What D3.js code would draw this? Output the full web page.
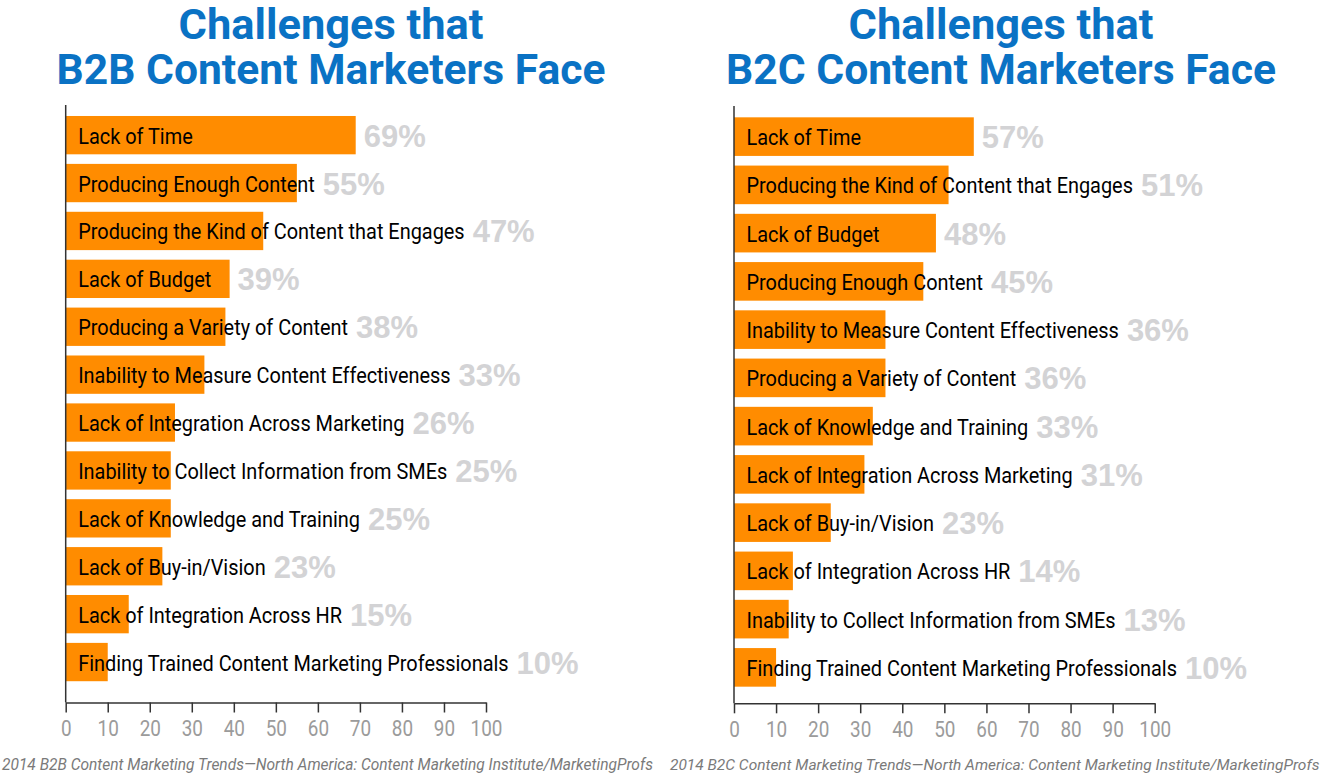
<!DOCTYPE html>
<html>
<head>
<meta charset="utf-8">
<script src="https://cdn.jsdelivr.net/npm/d3@7"></script>
<style>
  html, body { margin: 0; padding: 0; background: #ffffff; }
  svg { display: block; }
</style>
</head>
<body>
<svg id="chart" width="1323" height="775"></svg>
<script>
// ---- Data ----
const b2bTitle = ["Challenges that", "B2B Content Marketers Face"];
const b2bCategories = [
  "Lack of Time",
  "Producing Enough Content",
  "Producing the Kind of Content that Engages",
  "Lack of Budget",
  "Producing a Variety of Content",
  "Inability to Measure Content Effectiveness",
  "Lack of Integration Across Marketing",
  "Inability to Collect Information from SMEs",
  "Lack of Knowledge and Training",
  "Lack of Buy-in/Vision",
  "Lack of Integration Across HR",
  "Finding Trained Content Marketing Professionals"
];
const b2bValues = [69, 55, 47, 39, 38, 33, 26, 25, 25, 23, 15, 10];
const b2bSource = "2014 B2B Content Marketing Trends\u2014North America: Content Marketing Institute/MarketingProfs";

const b2cTitle = ["Challenges that", "B2C Content Marketers Face"];
const b2cCategories = [
  "Lack of Time",
  "Producing the Kind of Content that Engages",
  "Lack of Budget",
  "Producing Enough Content",
  "Inability to Measure Content Effectiveness",
  "Producing a Variety of Content",
  "Lack of Knowledge and Training",
  "Lack of Integration Across Marketing",
  "Lack of Buy-in/Vision",
  "Lack of Integration Across HR",
  "Inability to Collect Information from SMEs",
  "Finding Trained Content Marketing Professionals"
];
const b2cValues = [57, 51, 48, 45, 36, 36, 33, 31, 23, 14, 13, 10];
const b2cSource = "2014 B2C Content Marketing Trends\u2014North America: Content Marketing Institute/MarketingProfs";

const axisTicks = [0, 10, 20, 30, 40, 50, 60, 70, 80, 90, 100];

// ---- Style ----
const ORANGE = "#ff8c00";
const BLUE = "#0a72c4";
const PCT_GRAY = "#d3d3d5";
const TICK_GRAY = "#9b9b9b";
const NOTE_GRAY = "#7a7a7a";
const AXIS_COLOR = "#333333";
const FONT = "Roboto, 'Liberation Sans', sans-serif";
const WIDE = "'Liberation Sans', Roboto, sans-serif";
const LABEL_SQUEEZE = 0.905;
const TICK_SQUEEZE = 0.86;

const svg = d3.select("#chart");

function fitWidth(sel, target) {
  const w = sel.node().getComputedTextLength();
  if (w > 0) {
    const fs = parseFloat(sel.attr("font-size"));
    sel.attr("font-size", (fs * target / w).toFixed(2));
  }
}

function drawPanel(cfg) {
  const g = svg.append("g");
  const x = d3.scaleLinear().domain([0, 100]).range([cfg.x0, cfg.x1]);
  const y = d3.scaleBand()
    .domain(cfg.categories)
    .range([cfg.yTop, cfg.yTop + cfg.step * cfg.categories.length])
    .paddingInner(0.2)
    .paddingOuter(0.1);

  // Title (horizontally condensed with a transform)
  cfg.title.forEach((t, i) => {
    const tg = g.append("g");
    const tt = tg.append("text")
      .attr("x", 0)
      .attr("y", cfg.titleY[i])
      .attr("text-anchor", "middle")
      .attr("font-family", FONT)
      .attr("font-weight", "bold")
      .attr("font-size", 42)
      .attr("fill", BLUE)
      .text(t);
    const w = tt.node().getComputedTextLength();
    const s = w > 0 ? cfg.titleW[i] / w : 1;
    tg.attr("transform", `translate(${cfg.titleX},0) scale(${s.toFixed(4)},1)`);
  });

  // Bars
  g.append("g").selectAll("rect")
    .data(cfg.categories)
    .join("rect")
    .attr("x", x(0))
    .attr("y", d => y(d))
    .attr("width", (d, i) => x(cfg.values[i]) - x(0))
    .attr("height", y.bandwidth())
    .attr("fill", ORANGE);

  // Category labels (condensed with a transform)
  const labelX = x(0) + 12.5;
  const ends = [];
  g.append("g")
    .attr("transform", `translate(${labelX},0) scale(${LABEL_SQUEEZE},1)`)
    .selectAll("text")
    .data(cfg.categories)
    .join("text")
    .attr("x", 0)
    .attr("y", d => y(d) + y.bandwidth() / 2 + 8.5)
    .attr("font-family", FONT)
    .attr("font-size", 22)
    .attr("fill", "#000")
    .text(d => d)
    .each(function (d, i) {
      const w = this.getComputedTextLength() * LABEL_SQUEEZE;
      ends.push(Math.max(labelX + w, x(cfg.values[i])));
    });

  // Percent labels
  g.append("g").selectAll("text")
    .data(cfg.categories)
    .join("text")
    .attr("x", (d, i) => ends[i] + 8)
    .attr("y", d => y(d) + y.bandwidth() / 2 + 11.5)
    .attr("font-family", WIDE)
    .attr("font-weight", "bold")
    .attr("font-size", 31)
    .attr("fill", PCT_GRAY)
    .text((d, i) => cfg.values[i] + "%");

  // Vertical axis line
  g.append("line")
    .attr("x1", x(0)).attr("x2", x(0))
    .attr("y1", cfg.axisTop).attr("y2", cfg.axisY)
    .attr("stroke", AXIS_COLOR)
    .attr("stroke-width", 1.5);

  // Bottom axis
  const ax = g.append("g")
    .attr("transform", `translate(0,${cfg.axisY})`)
    .call(d3.axisBottom(x).tickValues(axisTicks).tickSize(10).tickSizeOuter(0).tickPadding(8));
  ax.select(".domain").attr("stroke", AXIS_COLOR).attr("stroke-width", 1.5);
  ax.selectAll(".tick line").attr("stroke", AXIS_COLOR).attr("stroke-width", 1.5);
  ax.selectAll(".tick text")
    .attr("font-family", FONT)
    .attr("font-size", 22)
    .attr("fill", TICK_GRAY)
    .attr("transform", `scale(${TICK_SQUEEZE},1)`);

  // Source note
  const note = g.append("text")
    .attr("x", cfg.noteX)
    .attr("y", 770)
    .attr("font-family", FONT)
    .attr("font-style", "italic")
    .attr("font-size", 15)
    .attr("fill", NOTE_GRAY)
    .text(cfg.source);
  fitWidth(note, cfg.noteW);
}

drawPanel({
  title: b2bTitle, categories: b2bCategories, values: b2bValues, source: b2bSource,
  x0: 65.7, x1: 486, yTop: 111.2, step: 47.9, axisTop: 105, axisY: 702.5,
  titleX: 331, titleY: [39, 84], titleW: [305, 549], noteX: 2, noteW: 651
});
drawPanel({
  title: b2cTitle, categories: b2cCategories, values: b2cValues, source: b2cSource,
  x0: 734, x1: 1154.7, yTop: 112.5, step: 48.25, axisTop: 106, axisY: 703.3,
  titleX: 1001, titleY: [39, 84], titleW: [305, 550], noteX: 670, noteW: 650
});
</script>
</body>
</html>
